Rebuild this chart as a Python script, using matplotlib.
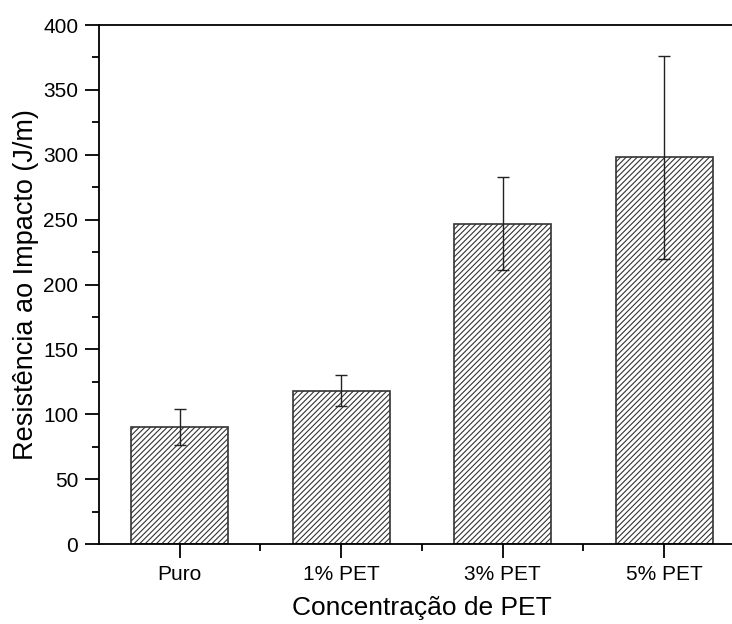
import numpy as np
import matplotlib.pyplot as plt
from matplotlib.ticker import MultipleLocator

# Impact resistance by PET concentration
categorias = ['Puro', '1% PET', '3% PET', '5% PET']
resistencia = [90, 118, 247, 298]
erro = [14, 12, 36, 78]

plt.rcParams['font.family'] = ['Liberation Sans', 'DejaVu Sans']
plt.rcParams['hatch.linewidth'] = 0.8

fig = plt.figure(figsize=(7.32, 6.24), dpi=100)
ax = fig.add_axes([0.1352, 0.1282, 0.8825, 0.8317])

x = np.arange(1, len(categorias) + 1)
ax.bar(x, resistencia, width=0.6, color='white', edgecolor='#333333',
       linewidth=1.2, hatch='//////')
ax.errorbar(x, resistencia, yerr=erro, fmt='none', ecolor='#222222',
            elinewidth=1.0, capsize=4, capthick=1.0)

ax.set_xlim(0.5, 4.5)
ax.set_ylim(0, 400)
ax.set_xticks(x)
ax.set_xticklabels(categorias)
ax.xaxis.set_minor_locator(plt.FixedLocator(x + 0.5))
ax.yaxis.set_major_locator(MultipleLocator(50))
ax.yaxis.set_minor_locator(MultipleLocator(25))

ax.spines['right'].set_visible(False)
for s in ['left', 'bottom', 'top']:
    ax.spines[s].set_linewidth(1.3)
ax.tick_params(which='major', direction='out', length=10, width=1.3,
               labelsize=15, pad=5)
ax.tick_params(which='minor', direction='out', length=5, width=1.3)
ax.tick_params(axis='x', which='both', top=False)

ax.set_xlabel('Concentração de PET', fontsize=19, labelpad=9)
ax.set_ylabel('Resistência ao Impacto (J/m)', fontsize=19.5, labelpad=3)

fig.savefig('out.png', dpi=100)
